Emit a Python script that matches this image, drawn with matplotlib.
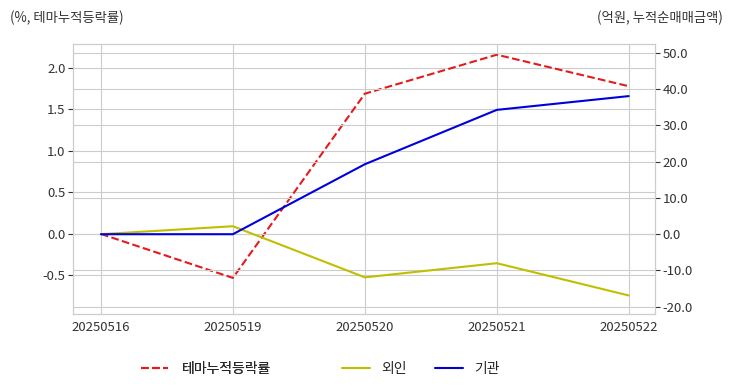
import matplotlib
matplotlib.use("Agg")
import matplotlib.pyplot as plt
import seaborn as sns
from matplotlib.ticker import FormatStrFormatter

dates = ["20250516", "20250519", "20250520", "20250521", "20250522"]
themeReturn = [0.0, -0.53, 1.69, 2.16, 1.78]
foreignNet = [0.0, 2.2, -11.9, -8.0, -16.9]
instNet = [0.0, 0.0, 19.3, 34.3, 38.1]

sns.set_style("whitegrid")
plt.rcParams['font.family'] = ['Noto Sans CJK KR', 'DejaVu Sans']
plt.rcParams['axes.unicode_minus'] = False

fig, ax1 = plt.subplots(figsize=(7.32, 3.92), dpi=100)
fig.subplots_adjust(left=0.1, right=0.895, top=0.888, bottom=0.2)

xs = list(range(len(dates)))
l1, = ax1.plot(xs, themeReturn, color="#e41a1c", linestyle="--", linewidth=1.5, label="테마누적등락률")
ax1.set_ylim(-0.96, 2.29)
ax1.set_xticks(xs)
ax1.set_xticklabels(dates)
ax1.yaxis.set_major_formatter(FormatStrFormatter("%.1f"))

ax2 = ax1.twinx()
l2, = ax2.plot(xs, foreignNet, color="#bfbf00", linewidth=1.5, label="외인")
l3, = ax2.plot(xs, instNet, color="#0000dd", linewidth=1.5, label="기관")
ax2.set_ylim(-21.9, 52.5)
ax2.set_yticks([-20, -10, 0, 10, 20, 30, 40, 50])
ax2.yaxis.set_major_formatter(FormatStrFormatter("%.1f"))
ax1.set_xlim(-0.21, 4.2)

for ax in (ax1, ax2):
    ax.tick_params(labelsize=9.5, colors="#333333", pad=2)
    for s in ax.spines.values():
        s.set_color("#cccccc")

fig.text(0.013, 0.955, "(%, 테마누적등락률)", fontsize=9.6, color="#333333", ha="left", va="center")
fig.text(0.987, 0.955, "(억원, 누적순매매금액)", fontsize=9.6, color="#333333", ha="right", va="center")

# legend split in two so the gap after the first entry matches the reference
leg1 = fig.legend(handles=[l1], loc="center left", bbox_to_anchor=(0.175, 0.058),
                  frameon=False, fontsize=10, handlelength=2.0, handletextpad=1.0)
fig.legend(handles=[l2, l3], loc="center left", bbox_to_anchor=(0.45, 0.058), ncol=2,
           frameon=False, fontsize=10, handlelength=2.0, handletextpad=0.85, columnspacing=2.0)
fig.add_artist(leg1)

fig.savefig("out.png")
